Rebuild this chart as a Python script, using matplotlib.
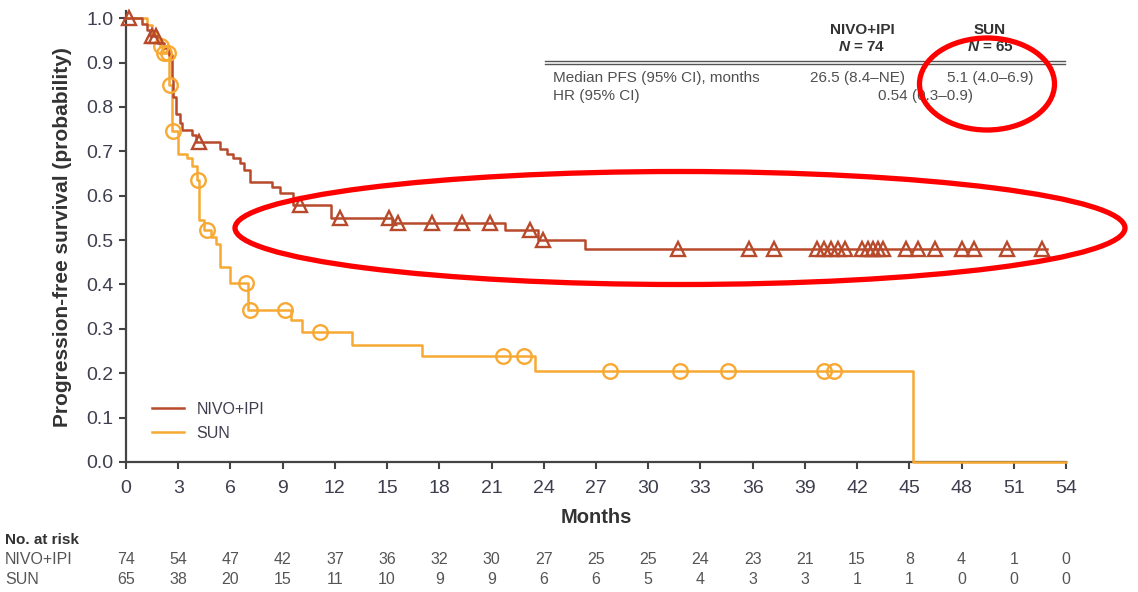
import numpy as np
import matplotlib
matplotlib.use("Agg")
import matplotlib.pyplot as plt
from matplotlib.patches import Ellipse
from matplotlib import transforms

plt.rcParams['font.family'] = ['Liberation Sans', 'DejaVu Sans']
plt.rcParams['mathtext.fontset'] = 'custom'
plt.rcParams['mathtext.it'] = 'Liberation Sans:italic:bold'

# Kaplan-Meier step data: time of each drop (months) and survival after it
nivo_t = [0, 0.9, 1.2, 1.4, 1.8, 2.2, 2.5, 2.62, 2.7, 2.9, 3.1, 3.2, 3.8, 4.05,
          5.4, 5.8, 6.15, 6.55, 6.8, 7.1, 8.4, 8.85, 9.6, 11.8, 15.3, 21.8,
          23.66, 26.36]
nivo_s = [1.0, 0.986, 0.973, 0.959, 0.945, 0.932, 0.918, 0.865, 0.823, 0.784,
          0.763, 0.748, 0.736, 0.721, 0.706, 0.695, 0.684, 0.673, 0.658, 0.631,
          0.62, 0.605, 0.578, 0.549, 0.538, 0.523, 0.50, 0.481]
nivo_end = 52.9
nivo_cens = [0.15, 1.5, 1.7, 4.2, 10.0, 12.3, 15.1, 15.6, 17.6, 19.3, 20.9,
             23.2, 23.95, 31.7, 35.8, 37.2, 39.7, 40.1, 40.5, 40.9, 41.3,
             42.3, 42.6, 42.9, 43.2, 43.5, 44.8, 45.5, 46.5, 48.0, 48.7,
             50.6, 52.6]

sun_t = [0, 1.2, 1.5, 1.8, 1.95, 2.1, 2.45, 2.5, 2.65, 3.0, 3.5, 3.8, 4.1, 4.2,
         4.5, 4.9, 5.2, 5.4, 6.0, 7.0, 9.5, 10.1, 13.0, 17.0, 23.5, 45.2]
sun_s = [1.0, 0.985, 0.969, 0.954, 0.938, 0.922, 0.906, 0.85, 0.746, 0.695,
         0.684, 0.667, 0.635, 0.545, 0.523, 0.508, 0.492, 0.44, 0.403, 0.342,
         0.32, 0.293, 0.264, 0.239, 0.205, 0.0]
sun_end = 54.0
sun_cens = [2.0, 2.2, 2.4, 2.55, 2.72, 4.15, 4.63, 6.9, 7.1, 9.15, 11.15,
            21.65, 22.85, 27.8, 31.8, 34.6, 40.1, 40.7]

risk_months = list(range(0, 55, 3))
nivo_risk = [74, 54, 47, 42, 37, 36, 32, 30, 27, 25, 25, 24, 23, 21, 15, 8, 4, 1, 0]
sun_risk = [65, 38, 20, 15, 11, 10, 9, 9, 6, 6, 5, 4, 3, 3, 1, 1, 0, 0, 0]

red = '#b84a2c'
orange = '#f7a934'
txt = '#3e3e4e'


def surv_at(times, surv, c):
    i = np.searchsorted(times, c, side='right') - 1
    return surv[i]


fig = plt.figure(figsize=(11.38, 5.92), dpi=100)
ax = fig.add_axes([0.1107, 0.2196, 0.826, 0.761])

for times, surv, end, cens, col, mk, ms, lab in [
        (sun_t, sun_s, sun_end, sun_cens, orange, 'o', 10.5, 'SUN'),
        (nivo_t, nivo_s, nivo_end, nivo_cens, red, '^', 9.5, 'NIVO+IPI')]:
    tt = np.array(times + [end])
    ss = np.array(surv + [surv[-1]])
    ax.plot(tt, ss, drawstyle='steps-post', color=col, lw=1.8, label=lab,
            zorder=4, clip_on=False)
    cy = [surv_at(np.array(times), np.array(surv), c) for c in cens]
    ax.plot(cens, cy, ls='none', marker=mk, ms=ms, mfc='none', mec=col,
            mew=1.7, zorder=5, clip_on=False)

ax.set_xlim(0, 54)
ax.set_ylim(0, 1.015)
ax.set_xticks(risk_months)
ax.set_yticks(np.arange(0, 1.01, 0.1))
ax.set_yticklabels([f'{v:.1f}' for v in np.arange(0, 1.01, 0.1)])
for s in ['top', 'right']:
    ax.spines[s].set_visible(False)
for s in ['left', 'bottom']:
    ax.spines[s].set_color('#444444')
    ax.spines[s].set_linewidth(1.6)
ax.tick_params(direction='out', length=5, width=1.5, colors='#444444',
               labelsize=14, labelcolor=txt)
ax.tick_params(axis='x', pad=8)
ax.tick_params(axis='y', pad=4)
ax.set_xlabel('Months', fontsize=14.5, fontweight='bold', color='#333333',
              labelpad=8)
ax.set_ylabel('Progression-free survival (probability)', fontsize=15,
              fontweight='bold', color='#333333', labelpad=10)

h, l = ax.get_legend_handles_labels()
ax.legend(h[::-1], l[::-1], loc='lower left', bbox_to_anchor=(0.012, 0.015),
          frameon=False, fontsize=11.5, handlelength=2.0, labelspacing=0.55,
          labelcolor=txt)

# summary table in upper right
def fx(px):
    return px / 1138


def fy(py):
    return 1 - py / 592


hdr = dict(ha='center', va='center', fontsize=11, fontweight='bold',
           color='#333333')
body = dict(va='center', fontsize=11, color='#505050')
fig.text(fx(862), fy(30), 'NIVO+IPI', **hdr)
fig.text(fx(990), fy(30), 'SUN', **hdr)
fig.text(fx(862), fy(47), r'$\mathit{N}$' + ' = 74', **hdr)
fig.text(fx(990), fy(47), r'$\mathit{N}$' + ' = 65', **hdr)
fig.add_artist(plt.Line2D([fx(545), fx(1065)], [fy(60.5), fy(60.5)],
                          color='#555555', lw=1.0))
fig.add_artist(plt.Line2D([fx(545), fx(1065)], [fy(63.5), fy(63.5)],
                          color='#555555', lw=1.0))
fig.text(fx(553), fy(78), 'Median PFS (95% CI), months', ha='left', **body)
fig.text(fx(858), fy(78), '26.5 (8.4\u2013NE)', ha='center', **body)
fig.text(fx(990), fy(78), '5.1 (4.0\u20136.9)', ha='center', **body)
fig.text(fx(553), fy(96), 'HR (95% CI)', ha='left', **body)
fig.text(fx(925), fy(96), '0.54 (0.3\u20130.9)', ha='center', **body)

# number at risk
trans = transforms.blended_transform_factory(ax.transData, fig.transFigure)
fig.text(fx(5), fy(540), 'No. at risk', ha='left', va='center', fontsize=11,
         fontweight='bold', color='#333333')
fig.text(fx(5), fy(560), 'NIVO+IPI', ha='left', va='center', fontsize=11.5,
         color='#555555')
fig.text(fx(5), fy(579), 'SUN', ha='left', va='center', fontsize=11.5,
         color='#555555')
for m, a, b in zip(risk_months, nivo_risk, sun_risk):
    ax.text(m, fy(560), str(a), transform=trans, ha='center', va='center',
            fontsize=11.5, color='#555555')
    ax.text(m, fy(579), str(b), transform=trans, ha='center', va='center',
            fontsize=11.5, color='#555555')

# red highlight ellipses
fig.add_artist(Ellipse((fx(680), fy(228)), 890 / 1138, 113 / 592,
                       transform=fig.transFigure, fill=False, ec='#ff0000',
                       lw=3.8, zorder=10))
fig.add_artist(Ellipse((fx(987), fy(84)), 135 / 1138, 92 / 592,
                       transform=fig.transFigure, fill=False, ec='#ff0000',
                       lw=3.8, zorder=10))

fig.savefig('out.png', dpi=100)
